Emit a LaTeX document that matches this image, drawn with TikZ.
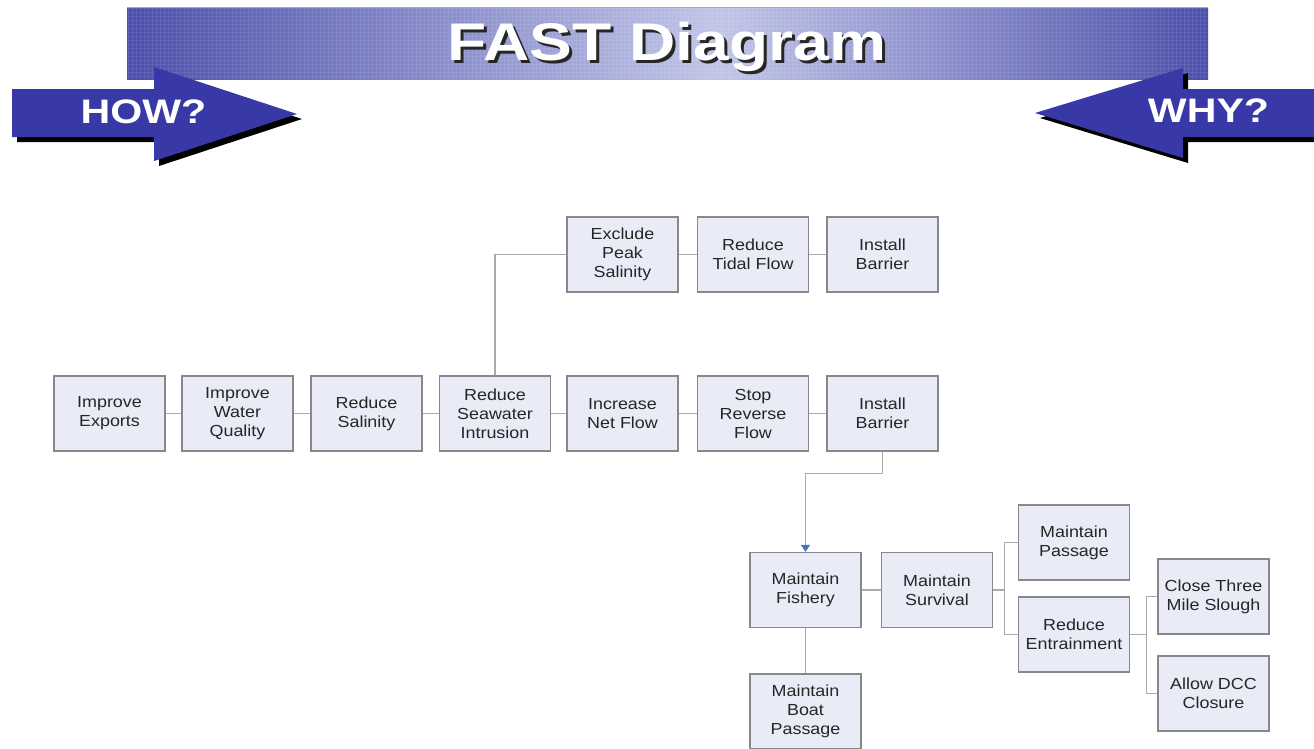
\documentclass[tikz,border=0pt]{standalone}
\usepackage{fontspec}
\setmainfont{Liberation Sans}[FakeStretch=1.12]
\newfontfamily\hdfont{Liberation Sans}[FakeStretch=1.21]
\usetikzlibrary{arrows.meta}
\definecolor{boxfill}{RGB}{233,235,247}
\definecolor{boxdraw}{RGB}{135,135,140}
\definecolor{connc}{RGB}{170,170,170}
\definecolor{arrblue}{RGB}{68,114,196}
\definecolor{howblue}{RGB}{56,56,166}
\definecolor{bandark}{RGB}{74,78,172}
\definecolor{banlight}{RGB}{192,197,232}
\begin{document}
\begin{tikzpicture}[x=1pt,y=-1pt,
  fbox/.style={draw=boxdraw,line width=1.3pt,fill=boxfill,minimum width=111pt,minimum height=75pt,inner sep=1pt,align=center,font=\fontsize{16}{19}\selectfont,text=black!85},
  link/.style={draw=connc,line width=1.3pt},
  bigarrow/.style={fill=howblue},
  arrshadow/.style={fill=black},
  arrlabel/.style={text=white,font=\hdfont\bfseries\fontsize{34}{34}\selectfont,inner sep=0pt,anchor=base},
  titlefont/.style={font=\hdfont\bfseries\fontsize{53}{53}\selectfont,inner sep=0pt,anchor=base}
]
\useasboundingbox (0,0) rectangle (1314,748);
\fill[white] (0,0) rectangle (1314,748);

% banner
\shade[left color=bandark,right color=banlight] (127,7) rectangle (721,79);
\shade[left color=banlight,right color=bandark] (720,7) rectangle (1208,79);
\begin{scope}
  \clip (127,7) rectangle (1208,79);
  \draw[white,opacity=0.10,line width=0.5pt,step=4pt] (127,7) grid (1208,79);
\end{scope}
\draw[gray!70,line width=0.8pt] (127,7) -- (1208,7);
\node[titlefont,text=black!85] (titlesh) at (670,63) {FAST Diagram};
\node[titlefont,text=white] (title) at (667,60) {FAST Diagram};

% HOW arrow
\fill[arrshadow] (17,94) -- (159,94) -- (159,72) -- (302,119) -- (159,166) -- (159,142) -- (17,142) -- cycle;
\fill[bigarrow] (12,89) -- (154,89) -- (154,67) -- (297,114) -- (154,161) -- (154,137) -- (12,137) -- cycle;
\node[arrlabel] (how) at (143.5,123) {HOW?};

% WHY arrow
\fill[arrshadow] (1040,118) -- (1188,73) -- (1188,94) -- (1320,94) -- (1320,142) -- (1188,142) -- (1188,163) -- cycle;
\fill[bigarrow] (1035,113) -- (1183,68) -- (1183,89) -- (1320,89) -- (1320,137) -- (1183,137) -- (1183,158) -- cycle;
\node[arrlabel] (why) at (1208.5,122) {WHY?};

% boxes
\node[fbox] (ie)  at (109.5,413.5) {Improve\\Exports};
\node[fbox] (iw)  at (237.5,413.5) {Improve\\Water\\Quality};
\node[fbox] (rs)  at (366.5,413.5) {Reduce\\Salinity};
\node[fbox] (rsi) at (495,413.5)   {Reduce\\Seawater\\Intrusion};
\node[fbox] (inf) at (622.5,413.5) {Increase\\Net Flow};
\node[fbox] (srf) at (753,413.5)   {Stop\\Reverse\\Flow};
\node[fbox] (ib2) at (882.5,413.5) {Install\\Barrier};
\node[fbox] (eps) at (622.5,254.5) {Exclude\\Peak\\Salinity};
\node[fbox] (rtf) at (753,254.5)   {Reduce\\Tidal Flow};
\node[fbox] (ib1) at (882.5,254.5) {Install\\Barrier};
\node[fbox] (mf)  at (805.5,590)   {Maintain\\Fishery};
\node[fbox] (ms)  at (937,590)     {Maintain\\Survival};
\node[fbox] (mp)  at (1074,542.5)  {Maintain\\Passage};
\node[fbox] (re)  at (1074,634.5)  {Reduce\\Entrainment};
\node[fbox] (ct)  at (1213.5,596.5) {Close Three\\Mile Slough};
\node[fbox] (ad)  at (1213.5,693.5) {Allow DCC\\Closure};
\node[fbox] (mb)  at (805.5,711.5) {Maintain\\Boat\\Passage};

% connectors
\draw[link] (ie) -- (iw);
\draw[link] (iw) -- (rs);
\draw[link] (rs) -- (rsi);
\draw[link] (rsi) -- (inf);
\draw[link] (inf) -- (srf);
\draw[link] (srf) -- (ib2);
\draw[link] (eps) -- (rtf);
\draw[link] (rtf) -- (ib1);
\draw[link] (rsi.north) |- (eps.west);
\draw[link,-{Triangle[width=9pt,length=7pt,color=arrblue]}] (ib2.south) -- ([yshift=-22pt]ib2.south) -| (mf.north);
\draw[link] (mf) -- (ms);
\draw[link] (ms.east) -- ++(11,0) coordinate (j1);
\draw[link] (j1) |- (mp.west);
\draw[link] (j1) |- (re.west);
\draw[link] (re.east) -- ++(16,0) coordinate (j2);
\draw[link] (j2) |- (ct.west);
\draw[link] (j2) |- (ad.west);
\draw[link] (mf) -- (mb);
\end{tikzpicture}
\end{document}
